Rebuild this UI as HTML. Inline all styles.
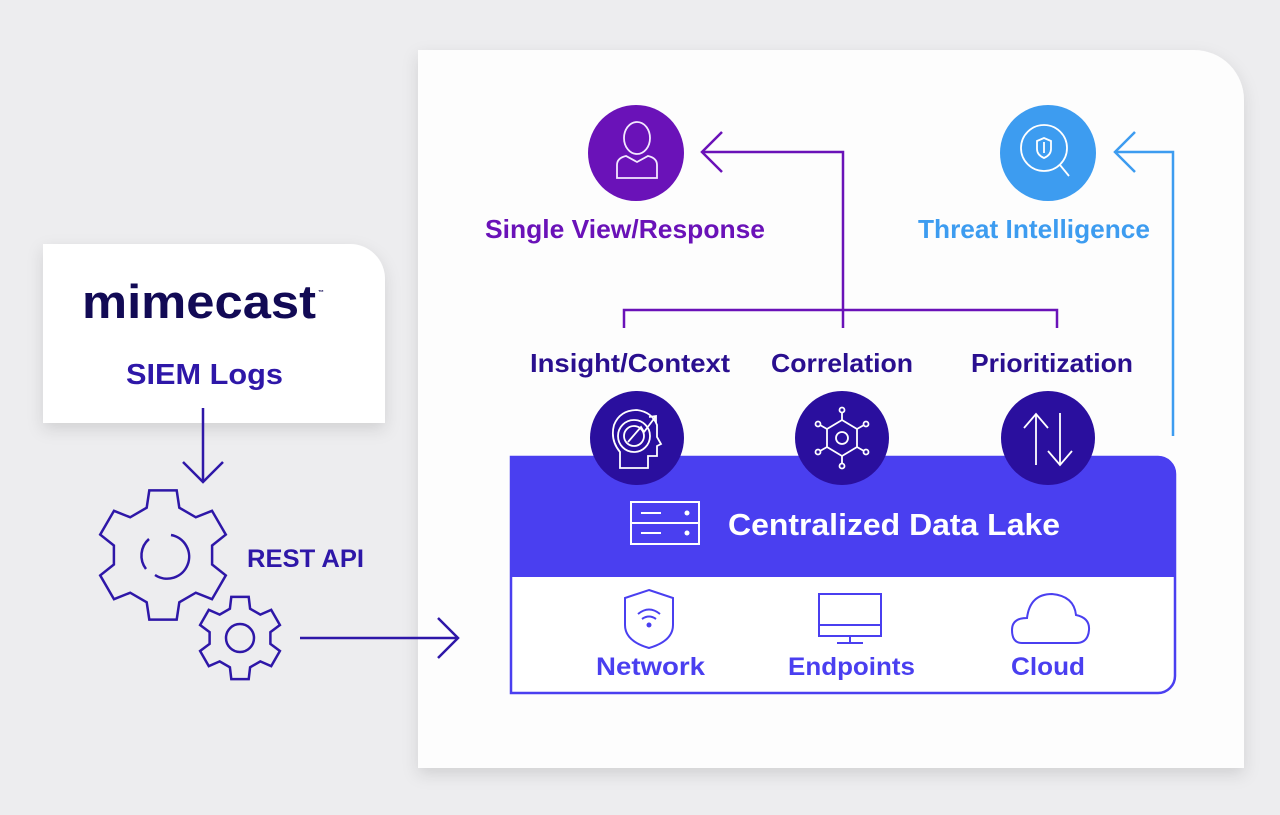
<!DOCTYPE html>
<html><head><meta charset="utf-8"><style>
html,body{margin:0;padding:0;background:#ededef;}
svg{display:block}
text{font-family:"Liberation Sans",sans-serif;font-weight:bold;}
</style></head><body>
<svg id="s" width="1280" height="815" viewBox="0 0 1280 815" xmlns="http://www.w3.org/2000/svg">
<defs>
<filter id="sh" x="-10%" y="-10%" width="120%" height="130%"><feDropShadow dx="0" dy="6" stdDeviation="8" flood-color="#000" flood-opacity="0.12"/></filter>
</defs>
<rect width="1280" height="815" fill="#ededef"/>
<path d="M418 50 H1194 A50 50 0 0 1 1244 100 V768 H418 Z" fill="#fdfdfd" filter="url(#sh)"/>
<path d="M43 244 H350 A35 35 0 0 1 385 279 V423 H43 Z" fill="#ffffff" filter="url(#sh)"/>
<text x="82" y="318" font-size="47" fill="#120a55" textLength="234" lengthAdjust="spacingAndGlyphs">mimecast</text>
<text x="318" y="294" font-size="6" fill="#120a55">™</text>
<text x="126" y="384" font-size="29" fill="#2e17a8" textLength="157" lengthAdjust="spacingAndGlyphs">SIEM Logs</text>
<g stroke="#2e17a8" stroke-width="2.5" fill="none">
<line x1="203" y1="408" x2="203" y2="482"/><polyline points="183,462 203,482 223,462"/>
<line x1="300" y1="638" x2="458" y2="638"/><polyline points="438,618 458,638 438,658"/>
<path id="g1" d=""/><path id="g2" d=""/>
<path d="M171 535 A22 22 0 1 1 155 575"/>
<path d="M146 569 A22 22 0 0 1 149 539"/>
<circle cx="240" cy="638" r="14"/>
</g>
<text x="247" y="567" font-size="25" fill="#2e17a8" textLength="117" lengthAdjust="spacingAndGlyphs">REST API</text>

<g stroke="#6a12b8" stroke-width="2.5" fill="none">
<polyline points="624,328 624,310 1057,310 1057,328"/>
<polyline points="843,328 843,152 702,152"/>
<polyline points="722,132 702,152 722,172"/>
</g>
<g stroke="#3d9cf0" stroke-width="2.5" fill="none">
<polyline points="1173,436 1173,152 1115,152"/>
<polyline points="1135,132 1115,152 1135,172"/>
</g>

<circle cx="636" cy="153" r="48" fill="#6a12b8"/>
<g stroke="#f3e8ff" stroke-width="1.8" fill="none">
<ellipse cx="637" cy="138" rx="13" ry="16"/>
<path d="M617 178 V165 Q617 158 626 156 L637 162 L648 156 Q657 158 657 165 V178 Z"/>
</g>
<circle cx="1048" cy="153" r="48" fill="#3d9cf0"/>
<g stroke="#fff" stroke-width="1.8" fill="none">
<circle cx="1044" cy="148" r="23"/>
<line x1="1060" y1="165" x2="1069" y2="176"/>
<path d="M1037 141 L1044 138 L1051 141 V149 Q1051 155 1044 158 Q1037 155 1037 149 Z"/>
<line x1="1044" y1="142" x2="1044" y2="153"/>
</g>
<text x="485" y="238" font-size="26" fill="#6a12b8" textLength="280" lengthAdjust="spacingAndGlyphs">Single View/Response</text>
<text x="918" y="238" font-size="26" fill="#3d9cf0" textLength="232" lengthAdjust="spacingAndGlyphs">Threat Intelligence</text>

<text x="530" y="372" font-size="26" fill="#2a0f8f" textLength="200" lengthAdjust="spacingAndGlyphs">Insight/Context</text>
<text x="771" y="372" font-size="26" fill="#2a0f8f" textLength="142" lengthAdjust="spacingAndGlyphs">Correlation</text>
<text x="971" y="372" font-size="26" fill="#2a0f8f" textLength="162" lengthAdjust="spacingAndGlyphs">Prioritization</text>

<path d="M511 457 H1158 A17 17 0 0 1 1175 474 V676 A17 17 0 0 1 1158 693 H511 Z" fill="#fff" stroke="#4a3ff0" stroke-width="2.5"/>
<path d="M511 457 H1158 A17 17 0 0 1 1175 474 V577 H511 Z" fill="#4a3ff0"/>
<g stroke="#fff" stroke-width="2" fill="none">
<rect x="631" y="502" width="68" height="42"/><line x1="631" y1="523" x2="699" y2="523"/>
<line x1="641" y1="513" x2="661" y2="513"/><line x1="641" y1="533" x2="661" y2="533"/>
</g>
<circle cx="687" cy="513" r="2.5" fill="#fff"/><circle cx="687" cy="533" r="2.5" fill="#fff"/>
<text x="728" y="535" font-size="31" fill="#fff" textLength="332" lengthAdjust="spacingAndGlyphs">Centralized Data Lake</text>

<circle cx="637" cy="438" r="47" fill="#2a0f9e"/>
<circle cx="842" cy="438" r="47" fill="#2a0f9e"/>
<circle cx="1048" cy="438" r="47" fill="#2a0f9e"/>
<g stroke="#fff" stroke-width="1.8" fill="none">
<path d="M620 468 V452 Q610 440 614 425 Q620 410 637 410 Q652 412 657 425 V437 L661 444 L657 446 V456 H648 V468 Z"/>
<circle cx="634" cy="436" r="16"/><circle cx="634" cy="436" r="10"/>
<polyline points="628,442 641,427 644,432 656,416"/><polyline points="649,417 656,416 656,423"/>
<circle cx="842" cy="438" r="6"/>
<polygon points="842,420 857,429 857,447 842,456 827,447 827,429"/>
<line x1="842" y1="420" x2="842" y2="412"/><line x1="842" y1="456" x2="842" y2="464"/>
<line x1="857" y1="429" x2="864" y2="425"/><line x1="827" y1="429" x2="820" y2="425"/>
<line x1="857" y1="447" x2="864" y2="451"/><line x1="827" y1="447" x2="820" y2="451"/>
<circle cx="842" cy="410" r="2.5"/><circle cx="842" cy="466" r="2.5"/>
<circle cx="866" cy="424" r="2.5"/><circle cx="818" cy="424" r="2.5"/>
<circle cx="866" cy="452" r="2.5"/><circle cx="818" cy="452" r="2.5"/>
<line x1="1036" y1="465" x2="1036" y2="414"/><polyline points="1024,428 1036,414 1048,428"/>
<line x1="1060" y1="413" x2="1060" y2="465"/><polyline points="1048,451 1060,465 1072,451"/>
</g>

<g stroke="#4a3ff0" stroke-width="2" fill="none">
<path d="M649 590 L673 598 V625 Q673 641 649 648 Q625 641 625 625 V598 Z"/>
<path d="M638 614 Q649 605 660 614"/><path d="M642 619 Q649 614 656 619"/>
<rect x="819" y="594" width="62" height="42"/><line x1="819" y1="625" x2="881" y2="625"/>
<line x1="850" y1="636" x2="850" y2="643"/><line x1="837" y1="643" x2="863" y2="643"/>
<path d="M1022 643 Q1012 643 1012 630 Q1012 618 1027 618 Q1030 594 1052 594 Q1074 596 1076 615 Q1090 618 1089 630 Q1088 643 1076 643 Z"/>
</g>
<circle cx="649" cy="625" r="2.5" fill="#4a3ff0"/>
<text x="596" y="675" font-size="25" fill="#4a3ff0" textLength="109" lengthAdjust="spacingAndGlyphs">Network</text>
<text x="788" y="675" font-size="25" fill="#4a3ff0" textLength="127" lengthAdjust="spacingAndGlyphs">Endpoints</text>
<text x="1011" y="675" font-size="25" fill="#4a3ff0" textLength="74" lengthAdjust="spacingAndGlyphs">Cloud</text>
</svg>
<script>
function gear(cx,cy,ro,ri){var d="";var teeth=[-90,-30,30,90,150,210];teeth.forEach(function(t,i){[[t-19,ri],[t-12,ro],[t+12,ro],[t+19,ri]].forEach(function(p,j){var a=p[0]*Math.PI/180;d+=(i==0&&j==0?"M":"L")+(cx+p[1]*Math.cos(a)).toFixed(1)+" "+(cy+p[1]*Math.sin(a)).toFixed(1)+" ";});});return d+"Z";}
document.getElementById("g1").setAttribute("d",gear(163,555,66,50));
document.getElementById("g2").setAttribute("d",gear(240,638,42,31));
</script>
</body></html>
